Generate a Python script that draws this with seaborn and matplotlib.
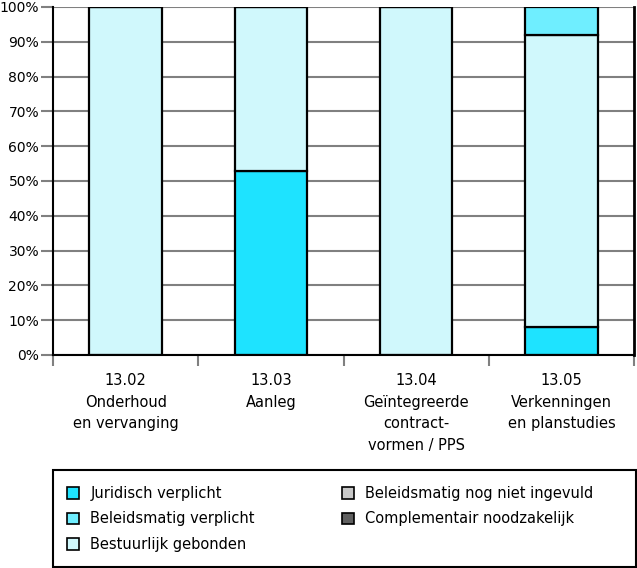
import matplotlib
matplotlib.use("Agg")
import matplotlib.pyplot as plt
import seaborn as sns
import pandas as pd
import numpy as np
from matplotlib.patches import Patch, Rectangle

categories = ["13.02\nOnderhoud\nen vervanging", "13.03\nAanleg",
              "13.04\nGeïntegreerde\ncontract-\nvormen / PPS", "13.05\nVerkenningen\nen planstudies"]
series_names = ["Juridisch verplicht", "Beleidsmatig verplicht", "Bestuurlijk gebonden",
                "Beleidsmatig nog niet ingevuld", "Complementair noodzakelijk"]
juridisch = [0, 53, 0, 8]
beleidsmatig = [0, 0, 0, 8]
bestuurlijk = [100, 47, 100, 84]
nog_niet = [0, 0, 0, 0]
complementair = [0, 0, 0, 0]
yticks = [0, 10, 20, 30, 40, 50, 60, 70, 80, 90, 100]
ytick_labels = [f"{v}%" for v in yticks]

colors = ["#1EE3FF", "#6FEEFF", "#D0F8FC", "#C8C8C8", "#606060"]

sns.set_theme(style="white")
plt.rcParams['font.family'] = ['DejaVu Sans']
plt.rcParams['text.color'] = 'black'
plt.rcParams['xtick.labelcolor'] = 'black'
plt.rcParams['ytick.labelcolor'] = 'black'
FS = 10.5

df = pd.DataFrame({"cat": categories,
                   series_names[0]: juridisch,
                   series_names[1]: beleidsmatig,
                   series_names[2]: bestuurlijk,
                   series_names[3]: nog_niet,
                   series_names[4]: complementair})

W, H = 637, 568
fig = plt.figure(figsize=(W/100, H/100), dpi=100)
ax = fig.add_axes([53/W, (H-355)/H, (634-53)/W, (355-7)/H])

for y in yticks:
    ax.axhline(y, color="#808080", lw=1.5, zorder=0)

bottom = np.zeros(len(categories))
stack_order = [0, 2, 1, 3, 4]
for i in stack_order:
    name = series_names[i]
    vals = df[name].values.astype(float)
    if vals.sum() > 0:
        sns.barplot(x=df["cat"], y=vals, bottom=bottom, color=colors[i], width=0.5,
                    edgecolor="black", linewidth=1.6, ax=ax, zorder=2, saturation=1)
    bottom = bottom + vals

ax.set_ylim(0, 100)
ax.set_xlim(-0.5, len(categories) - 0.5)
ax.set_yticks(yticks)
ax.set_yticklabels(ytick_labels, fontsize=10, color="black")
ax.set_xticks(range(len(categories)))
ax.set_xticklabels(categories, fontsize=FS, linespacing=1.55, color="black")
ax.set_xticks(np.arange(-0.5, len(categories)), minor=True)
ax.tick_params(axis="x", which="major", length=0, pad=13)
ax.tick_params(axis="x", which="minor", length=8, width=1.5, color="#808080", direction="out", bottom=True)
ax.tick_params(axis="y", which="major", length=9, width=1.5, color="#808080", direction="out", left=True, pad=1)
ax.set_xlabel("")
ax.set_ylabel("")
for s in ["left", "bottom", "right"]:
    ax.spines[s].set_visible(True)
    ax.spines[s].set_color("black")
    ax.spines[s].set_linewidth(1.5)
ax.spines["top"].set_visible(False)
ax.spines["right"].set_linewidth(2)

# legend frame
fig.patches.append(Rectangle((53/W, 1/H), (636-53)/W, (567-470)/H, transform=fig.transFigure,
                             facecolor="white", edgecolor="black", linewidth=1.5, zorder=0))

handles = [Patch(facecolor=colors[i], edgecolor="black", linewidth=1.2, label=series_names[i]) for i in range(5)]
common = dict(loc="upper left", frameon=False, fontsize=FS, handlelength=0.8, handleheight=0.8,
              handletextpad=0.8, borderaxespad=0, borderpad=0, labelspacing=0.72, labelcolor="black")
leg1 = fig.legend(handles=handles[:3], bbox_to_anchor=(67/W, (H-486)/H), **common)
leg2 = fig.legend(handles=handles[3:], bbox_to_anchor=(342/W, (H-486)/H), **common)

fig.savefig("out.png", dpi=100)
